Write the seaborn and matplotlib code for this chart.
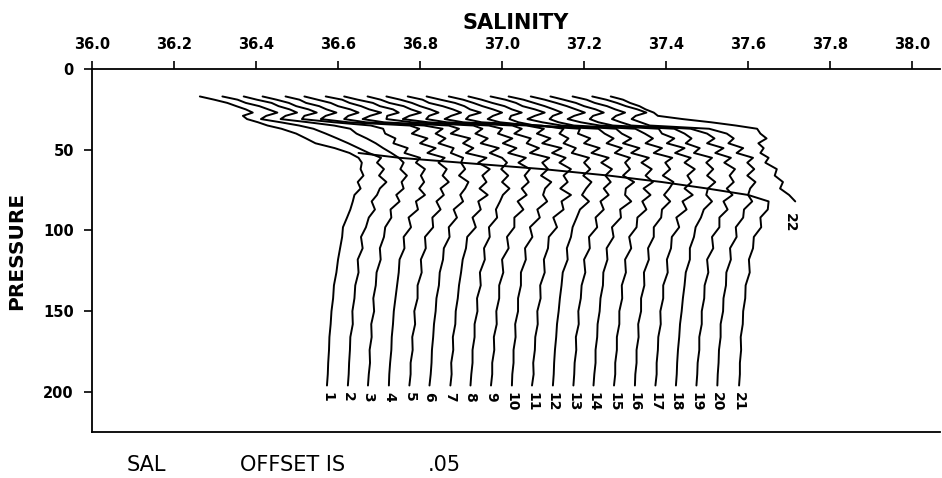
import numpy as np
import pandas as pd
import matplotlib
matplotlib.use("Agg")
import matplotlib.pyplot as plt
import seaborn as sns

# Pressure levels shared by all casts (dbar)
PRESSURE = [17, 19, 21, 23, 25, 27, 29, 31, 33, 35, 37, 40, 43, 46, 49, 52,
            55, 58, 62, 66, 70, 74, 78, 82, 87, 92, 98, 104, 111, 118, 126,
            134, 142, 150, 158, 166, 174, 182, 189, 196]

OFFSET = 0.05          # salinity shift between successive casts
X_TICKS = [36.0, 36.2, 36.4, 36.6, 36.8, 37.0, 37.2, 37.4, 37.6, 37.8, 38.0]
X_TICK_LABELS = ["36.0", "36.2", "36.4", "36.6", "36.8", "37.0", "37.2",
                 "37.4", "37.6", "37.8", "38.0"]
Y_TICKS = [0, 50, 100, 150, 200]

N = None
# Salinity of each cast (before offset) at the pressure levels above
SAL_01 = [36.263, 36.298, 36.330, 36.352, 36.375, 36.392, 36.368, 36.378, 36.405, 36.428, 36.462, 36.498, 36.522, 36.545, 36.592, 36.628,
          36.650, 36.658, 36.655, 36.662, 36.648, 36.655, 36.640, 36.636, 36.630, 36.622, 36.612, 36.610, 36.605, 36.600, 36.596, 36.590, 36.588, 36.584, 36.582, 36.579, 36.578, 36.576, 36.575, 36.573]
SAL_02 = [36.268, 36.305, 36.325, 36.358, 36.380, 36.402, 36.375, 36.362, 36.410, 36.455, 36.490, 36.520, 36.548, 36.575, 36.600, 36.625,
          36.655, 36.645, 36.662, 36.650, 36.668, 36.652, 36.645, 36.632, 36.640, 36.625, 36.618, 36.606, 36.610, 36.598, 36.600, 36.592, 36.590, 36.585, 36.586, 36.580, 36.579, 36.577, 36.576, 36.574]
SAL_03 = [36.270, 36.302, 36.338, 36.355, 36.382, 36.400, 36.372, 36.360, 36.428, 36.490, 36.530, 36.545, 36.570, 36.592, 36.610, 36.630,
          36.648, 36.660, 36.652, 36.668, 36.655, 36.660, 36.642, 36.650, 36.628, 36.630, 36.615, 36.612, 36.602, 36.604, 36.594, 36.592, 36.586, 36.588, 36.581, 36.582, 36.577, 36.578, 36.575, 36.573]
SAL_04 = [36.266, 36.300, 36.330, 36.348, 36.378, 36.398, 36.368, 36.362, 36.440, 36.530, 36.560, 36.565, 36.590, 36.585, 36.620, 36.612,
          36.650, 36.640, 36.662, 36.652, 36.660, 36.648, 36.662, 36.640, 36.645, 36.622, 36.628, 36.610, 36.612, 36.600, 36.598, 36.594, 36.590, 36.586, 36.584, 36.581, 36.580, 36.577, 36.575, 36.574]
SAL_05 = [36.272, 36.306, 36.322, 36.354, 36.372, 36.396, 36.370, 36.358, 36.425, 36.575, 36.598, 36.580, 36.618, 36.600, 36.638, 36.618,
          36.660, 36.645, 36.665, 36.655, 36.670, 36.650, 36.658, 36.640, 36.650, 36.630, 36.632, 36.612, 36.614, 36.602, 36.604, 36.594, 36.594, 36.586, 36.588, 36.581, 36.582, 36.577, 36.577, 36.574]
SAL_06 = [36.268, 36.300, 36.332, 36.350, 36.380, 36.400, 36.375, 36.365, 36.418, 36.560, 36.605, 36.588, 36.612, 36.595, 36.632, 36.625,
          36.655, 36.650, 36.660, 36.645, 36.668, 36.660, 36.648, 36.655, 36.632, 36.640, 36.620, 36.622, 36.608, 36.606, 36.598, 36.596, 36.590, 36.588, 36.584, 36.582, 36.579, 36.578, 36.576, 36.573]
SAL_07 = [36.270, 36.310, 36.328, 36.356, 36.376, 36.405, 36.378, 36.360, 36.412, 36.570, 36.595, 36.575, 36.622, 36.605, 36.630, 36.612,
          36.662, 36.642, 36.670, 36.652, 36.662, 36.645, 36.665, 36.642, 36.648, 36.628, 36.636, 36.615, 36.612, 36.604, 36.600, 36.595, 36.592, 36.587, 36.586, 36.580, 36.581, 36.576, 36.577, 36.574]
SAL_08 = [36.265, 36.298, 36.335, 36.352, 36.384, 36.398, 36.370, 36.368, 36.430, 36.580, 36.602, 36.585, 36.615, 36.598, 36.642, 36.620,
          36.650, 36.662, 36.648, 36.665, 36.650, 36.668, 36.652, 36.645, 36.635, 36.638, 36.618, 36.620, 36.606, 36.608, 36.596, 36.598, 36.589, 36.590, 36.583, 36.583, 36.578, 36.578, 36.575, 36.573]
SAL_09 = [36.272, 36.304, 36.325, 36.360, 36.378, 36.402, 36.374, 36.358, 36.420, 36.568, 36.600, 36.590, 36.625, 36.602, 36.635, 36.615,
          36.658, 36.640, 36.668, 36.655, 36.665, 36.648, 36.660, 36.638, 36.652, 36.630, 36.630, 36.612, 36.616, 36.600, 36.603, 36.593, 36.593, 36.586, 36.587, 36.580, 36.581, 36.576, 36.576, 36.573]
SAL_10 = [36.268, 36.302, 36.330, 36.350, 36.375, 36.395, 36.372, 36.365, 36.415, 36.575, 36.598, 36.580, 36.620, 36.610, 36.640, 36.618,
          36.665, 36.648, 36.662, 36.645, 36.670, 36.655, 36.650, 36.660, 36.636, 36.642, 36.618, 36.624, 36.606, 36.608, 36.596, 36.596, 36.589, 36.589, 36.582, 36.583, 36.578, 36.578, 36.575, 36.574]
SAL_11 = [36.270, 36.306, 36.322, 36.355, 36.380, 36.400, 36.376, 36.360, 36.405, 36.560, 36.602, 36.585, 36.618, 36.598, 36.645, 36.622,
          36.655, 36.640, 36.668, 36.650, 36.660, 36.642, 36.668, 36.645, 36.650, 36.625, 36.634, 36.614, 36.612, 36.602, 36.604, 36.593, 36.594, 36.586, 36.587, 36.581, 36.580, 36.576, 36.577, 36.573]
SAL_12 = [36.266, 36.300, 36.335, 36.358, 36.372, 36.398, 36.370, 36.362, 36.400, 36.545, 36.600, 36.590, 36.612, 36.600, 36.630, 36.620,
          36.662, 36.650, 36.665, 36.648, 36.668, 36.655, 36.645, 36.662, 36.640, 36.632, 36.622, 36.618, 36.608, 36.610, 36.598, 36.595, 36.591, 36.588, 36.584, 36.582, 36.579, 36.577, 36.576, 36.574]
SAL_13 = [36.270, 36.305, 36.330, 36.352, 36.378, 36.400, 36.378, 36.365, 36.395, 36.470, 36.590, 36.585, 36.615, 36.600, 36.638, 36.618,
          36.660, 36.642, 36.668, 36.652, 36.665, 36.648, 36.660, 36.640, 36.648, 36.628, 36.632, 36.612, 36.614, 36.600, 36.603, 36.594, 36.592, 36.586, 36.587, 36.580, 36.581, 36.577, 36.576, 36.574]
SAL_14 = [36.268, 36.300, 36.326, 36.356, 36.374, 36.398, 36.372, 36.368, 36.390, 36.430, 36.585, 36.600, 36.622, 36.605, 36.642, 36.625,
          36.662, 36.650, 36.662, 36.645, 36.672, 36.652, 36.650, 36.665, 36.638, 36.640, 36.618, 36.622, 36.605, 36.607, 36.597, 36.596, 36.590, 36.588, 36.583, 36.582, 36.578, 36.578, 36.575, 36.573]
SAL_15 = [36.272, 36.308, 36.334, 36.350, 36.380, 36.404, 36.380, 36.362, 36.398, 36.445, 36.578, 36.592, 36.615, 36.595, 36.635, 36.615,
          36.658, 36.640, 36.665, 36.650, 36.668, 36.645, 36.662, 36.642, 36.652, 36.630, 36.628, 36.610, 36.615, 36.600, 36.602, 36.592, 36.593, 36.586, 36.586, 36.580, 36.580, 36.576, 36.576, 36.573]
SAL_16 = [36.266, 36.302, 36.328, 36.354, 36.376, 36.396, 36.374, 36.366, 36.388, 36.425, 36.575, 36.598, 36.618, 36.600, 36.640, 36.620,
          36.665, 36.648, 36.660, 36.642, 36.668, 36.658, 36.645, 36.660, 36.640, 36.638, 36.620, 36.620, 36.606, 36.608, 36.596, 36.597, 36.589, 36.589, 36.582, 36.583, 36.578, 36.578, 36.575, 36.574]
SAL_17 = [36.270, 36.304, 36.332, 36.358, 36.380, 36.402, 36.376, 36.360, 36.392, 36.438, 36.582, 36.590, 36.620, 36.602, 36.645, 36.622,
          36.660, 36.645, 36.670, 36.652, 36.662, 36.645, 36.665, 36.640, 36.650, 36.625, 36.632, 36.614, 36.612, 36.602, 36.604, 36.593, 36.593, 36.586, 36.587, 36.581, 36.580, 36.577, 36.577, 36.574]
SAL_18 = [36.268, 36.300, 36.330, 36.350, 36.378, 36.398, 36.372, 36.364, 36.385, 36.420, 36.570, 36.595, 36.612, 36.598, 36.632, 36.618,
          36.662, 36.648, 36.665, 36.650, 36.670, 36.652, 36.648, 36.662, 36.642, 36.635, 36.622, 36.618, 36.608, 36.608, 36.598, 36.595, 36.591, 36.588, 36.584, 36.582, 36.579, 36.577, 36.576, 36.574]
SAL_19 = [36.272, 36.306, 36.326, 36.356, 36.376, 36.400, 36.378, 36.368, 36.390, 36.415, 36.560, 36.600, 36.618, 36.600, 36.640, 36.620,
          36.658, 36.642, 36.668, 36.655, 36.665, 36.648, 36.662, 36.640, 36.650, 36.630, 36.630, 36.612, 36.615, 36.600, 36.603, 36.594, 36.593, 36.587, 36.587, 36.581, 36.581, 36.577, 36.576, 36.574]
SAL_20 = [36.270, 36.304, 36.330, 36.352, 36.380, 36.402, 36.376, 36.366, 36.388, 36.410, 36.555, 36.598, 36.615, 36.602, 36.638, 36.622,
          36.662, 36.648, 36.665, 36.648, 36.668, 36.655, 36.650, 36.660, 36.640, 36.638, 36.620, 36.622, 36.606, 36.608, 36.597, 36.596, 36.590, 36.589, 36.583, 36.583, 36.579, 36.578, 36.576, 36.575]
SAL_21 = [N, N, N, N, N, N, N, N, N, N, N, N, N, N, N, 35.650,
          35.750, 35.900, 36.100, 36.260, 36.390, 36.500, 36.600, 36.650, 36.648, 36.630, 36.632, 36.614, 36.612, 36.602, 36.604, 36.594, 36.593, 36.588, 36.587, 36.582, 36.583, 36.580, 36.580, 36.578]
SAL_22 = [36.215, 36.245, 36.262, 36.285, 36.300, 36.320, 36.330, 36.390, 36.460, 36.520, 36.572, 36.580, 36.595, 36.575, 36.588, 36.580,
          36.600, 36.592, 36.620, 36.615, 36.635, 36.628, 36.650, 36.665, N, N, N, N, N, N, N, N, N, N, N, N, N, N, N, N]

CASTS = [SAL_01, SAL_02, SAL_03, SAL_04, SAL_05, SAL_06, SAL_07, SAL_08,
         SAL_09, SAL_10, SAL_11, SAL_12, SAL_13, SAL_14, SAL_15, SAL_16,
         SAL_17, SAL_18, SAL_19, SAL_20, SAL_21, SAL_22]
CAST_LABELS = [str(i + 1) for i in range(len(CASTS))]

# Long-form table: each cast shifted by its offset
rows = []
for k, sal in enumerate(CASTS):
    for p, s in zip(PRESSURE, sal):
        if s is not None:
            rows.append({"cast": CAST_LABELS[k], "pressure": p,
                         "salinity": s + k * OFFSET})
df = pd.DataFrame(rows)

sns.set_theme(style="ticks")
plt.rcParams["font.family"] = ["DejaVu Sans"]
plt.rcParams["text.color"] = "black"

fig = plt.figure(figsize=(9.42, 4.78), dpi=100)
ax = fig.add_axes([92 / 942, 1 - 432 / 478, (940 - 92) / 942, (432 - 69) / 478])

sns.lineplot(data=df, x="salinity", y="pressure", units="cast",
             estimator=None, sort=False, orient="y", color="black",
             linewidth=1.4, ax=ax, legend=False)

ax.set_xlim(36.0, 38.068)
ax.set_ylim(224.8, 0)

# Cast numbers under the end of each trace
for k, label in enumerate(CAST_LABELS):
    sub = df[df["cast"] == label]
    last = sub.iloc[-1]
    gap = 4 if k < len(CASTS) - 1 else 7
    dx = 0 if k < len(CASTS) - 1 else -0.012
    ax.text(last["salinity"] + dx, last["pressure"] + gap, label, rotation=-90,
            ha="center", va="top", fontsize=10, fontweight="bold",
            color="black")

ax.xaxis.tick_top()
ax.xaxis.set_label_position("top")
ax.set_xticks(X_TICKS)
ax.set_xticklabels(X_TICK_LABELS)
ax.set_yticks(Y_TICKS)
ax.tick_params(axis="x", direction="out", length=6, width=1.2,
               labelsize=10.5, pad=6, colors="black")
ax.tick_params(axis="y", direction="out", length=6, width=1.2,
               labelsize=10.5, pad=7, colors="black")
for lab in ax.get_xticklabels() + ax.get_yticklabels():
    lab.set_fontweight("bold")

ax.set_xlabel("SALINITY", fontsize=15, fontweight="bold", labelpad=6,
              color="black")
ax.set_ylabel("PRESSURE", fontsize=14.5, fontweight="bold", labelpad=12,
              color="black")

for side in ("left", "top", "bottom"):
    ax.spines[side].set_visible(True)
    ax.spines[side].set_linewidth(1.3)
    ax.spines[side].set_color("black")
ax.spines["right"].set_visible(False)
ax.grid(False)

y_note = 1 - 465 / 478
fig.text(127 / 942, y_note, "SAL", fontsize=15, ha="left", va="center",
         color="black")
fig.text(240 / 942, y_note, "OFFSET IS", fontsize=15, ha="left", va="center",
         color="black")
fig.text(428 / 942, y_note, f"{OFFSET:.2f}".lstrip("0"), fontsize=15,
         ha="left", va="center", color="black")

fig.savefig("out.png", dpi=100, facecolor="white")
